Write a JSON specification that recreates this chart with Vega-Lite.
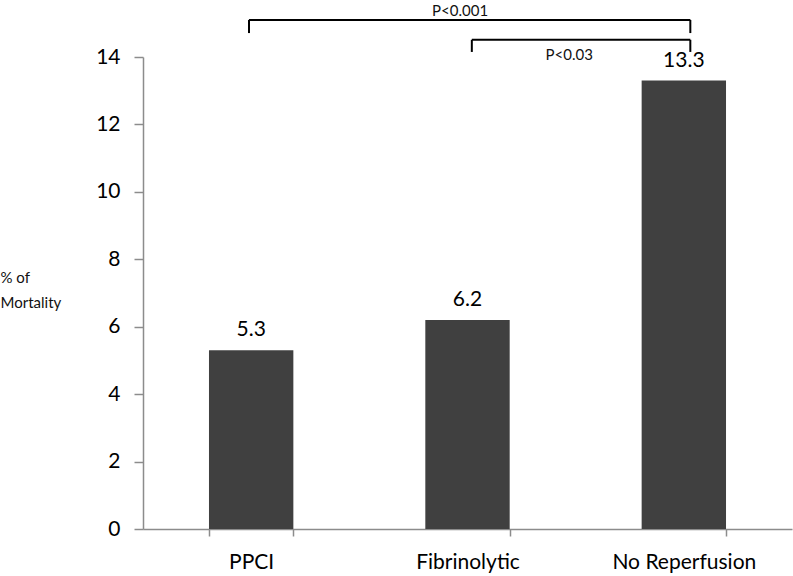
{
  "$schema": "https://vega.github.io/schema/vega-lite/v6.json",
  "autosize": "none",
  "width": 649,
  "height": 472,
  "padding": {"left": 143, "top": 57, "right": 1, "bottom": 47},
  "background": "white",
  "config": {"view": {"stroke": null}, "font": "Lato"},
  "datasets": {
    "bars": [
      {"group": "PPCI", "mortality": 5.3},
      {"group": "Fibrinolytic", "mortality": 6.2},
      {"group": "No Reperfusion", "mortality": 13.3}
    ],
    "hlines": [
      {"x1": 0.49, "x2": 2.53, "y": 15.1},
      {"x1": 1.52, "x2": 2.53, "y": 14.51}
    ],
    "vlines": [
      {"x": 0.49, "y1": 15.1, "y2": 14.71},
      {"x": 2.53, "y1": 15.1, "y2": 14.71},
      {"x": 1.52, "y1": 14.51, "y2": 14.15},
      {"x": 2.53, "y1": 14.51, "y2": 14.15}
    ],
    "plabels": [
      {"x": 1.466, "y": 15.37, "label": "P<0.001"},
      {"x": 1.97, "y": 14.06, "label": "P<0.03"}
    ]
  },
  "layer": [
    {
      "data": {"name": "bars"},
      "layer": [
        {
          "mark": {"type": "bar", "color": "#404040"},
          "encoding": {
            "x": {
              "field": "group", "type": "nominal", "sort": null,
              "scale": {"paddingInner": 0.61, "paddingOuter": 0.305},
              "axis": {
                "title": null, "labelAngle": 0, "labelFontSize": 21, "labelColor": "#000",
                "labelPadding": 15, "tickBand": "extent", "tickSize": 7,
                "domainColor": "#8c8c8c", "tickColor": "#8c8c8c", "domainWidth": 1.5, "tickWidth": 1.5
              }
            },
            "y": {
              "field": "mortality", "type": "quantitative",
              "scale": {"domain": [0, 14], "nice": false},
              "axis": {
                "values": [0, 2, 4, 6, 8, 10, 12, 14], "grid": false,
                "labelFontSize": 21, "labelColor": "#000", "labelPadding": 14, "tickSize": 9,
                "domainColor": "#8c8c8c", "tickColor": "#8c8c8c", "domainWidth": 1.5, "tickWidth": 1.5,
                "title": ["% of", "Mortality"], "titleAngle": 0, "titleAlign": "left",
                "titleBaseline": "middle", "titleX": -143, "titleY": 220,
                "titleFontSize": 15, "titleFontWeight": "normal", "titleColor": "#111", "titleLineHeight": 25
              }
            }
          }
        },
        {
          "mark": {"type": "text", "baseline": "alphabetic", "dy": -14, "fontSize": 21, "color": "#000"},
          "encoding": {
            "x": {"field": "group", "type": "nominal", "sort": null},
            "y": {"field": "mortality", "type": "quantitative"},
            "text": {"field": "mortality", "type": "quantitative", "format": ".1f"}
          }
        }
      ]
    },
    {
      "layer": [
        {
          "data": {"name": "hlines"},
          "mark": {"type": "rule", "color": "#000", "strokeWidth": 2},
          "encoding": {
            "x": {"field": "x1", "type": "quantitative", "scale": {"domain": [0, 3], "nice": false}, "axis": null},
            "x2": {"field": "x2"},
            "y": {"field": "y", "type": "quantitative"}
          }
        },
        {
          "data": {"name": "vlines"},
          "mark": {"type": "rule", "color": "#000", "strokeWidth": 2},
          "encoding": {
            "x": {"field": "x", "type": "quantitative", "scale": {"domain": [0, 3], "nice": false}, "axis": null},
            "y": {"field": "y1", "type": "quantitative"},
            "y2": {"field": "y2"}
          }
        },
        {
          "data": {"name": "plabels"},
          "mark": {"type": "text", "fontSize": 15, "color": "#111", "baseline": "middle"},
          "encoding": {
            "x": {"field": "x", "type": "quantitative", "scale": {"domain": [0, 3], "nice": false}, "axis": null},
            "y": {"field": "y", "type": "quantitative"},
            "text": {"field": "label"}
          }
        }
      ]
    }
  ],
  "resolve": {"scale": {"x": "independent"}}
}
